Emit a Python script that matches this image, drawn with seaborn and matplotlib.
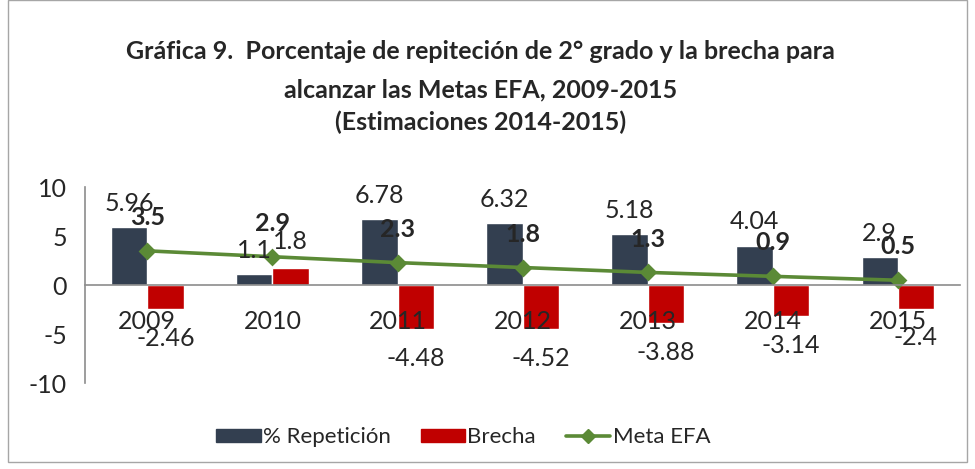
import pandas as pd
import numpy as np
import matplotlib
matplotlib.use("Agg")
from matplotlib import pyplot as plt
from matplotlib.patches import Patch, Rectangle
from matplotlib.lines import Line2D
import seaborn as sns

# data
years = ['2009', '2010', '2011', '2012', '2013', '2014', '2015']
repeticion = [5.96, 1.1, 6.78, 6.32, 5.18, 4.04, 2.9]
brecha = [-2.46, 1.8, -4.48, -4.52, -3.88, -3.14, -2.4]
meta_efa = [3.5, 2.9, 2.3, 1.8, 1.3, 0.9, 0.5]
series_names = ['% Repetición', 'Brecha', 'Meta EFA']
yticks = [-10, -5, 0, 5, 10]

col_rep = '#333F50'
col_bre = '#C00000'
col_meta = '#5B8A36'

sns.set_style('white')
plt.rcParams['font.family'] = ['Lato', 'DejaVu Sans']
plt.rcParams['axes.unicode_minus'] = False

fs = 18

df = pd.DataFrame({
    'year': years * 2,
    'value': repeticion + brecha,
    'serie': [series_names[0]] * len(years) + [series_names[1]] * len(years),
})

fig = plt.figure(figsize=(9.75, 4.69), dpi=100)
ax = fig.add_axes([0.087, 0.183, 0.898, 0.418])

sns.barplot(data=df, x='year', y='value', hue='serie',
            palette=[col_rep, col_bre], width=0.58, ax=ax, legend=False,
            saturation=1, errorbar=None)
sns.pointplot(x=years, y=meta_efa, color=col_meta, markers='D',
              markersize=7, linewidth=2.6, ax=ax, errorbar=None)

# data labels
bw = 0.58 / 2
for i in range(len(years)):
    xr = i - bw / 2
    xb = i + bw / 2
    ax.annotate(f'{repeticion[i]:g}', (xr, repeticion[i]), xytext=(0, 17),
                textcoords='offset points', ha='center', va='center', fontsize=fs)
    off = 19 if brecha[i] > 0 else -21
    ax.annotate(f'{brecha[i]:g}', (xb, brecha[i]), xytext=(0, off),
                textcoords='offset points', ha='center', va='center', fontsize=fs)
    ax.annotate(f'{meta_efa[i]:g}', (i, meta_efa[i]), xytext=(0, 24),
                textcoords='offset points', ha='center', va='center',
                fontsize=fs, fontweight='bold')

ax.set_axisbelow(False)
ax.set_ylim(-10, 10)
ax.set_xlim(-0.5, len(years) - 0.5)
ax.set_yticks(yticks)
ax.set_xlabel('')
ax.set_ylabel('')
ax.spines['top'].set_visible(False)
ax.spines['right'].set_visible(False)
ax.spines['bottom'].set_position(('data', 0))
for s in ['left', 'bottom']:
    ax.spines[s].set_color('#8C8C8C')
    ax.spines[s].set_linewidth(1.2)
ax.tick_params(axis='y', length=5, width=1.2, color='#8C8C8C', pad=8, labelsize=fs)
ax.tick_params(axis='x', which='major', length=0, pad=18, labelsize=fs)
ax.set_xticks(np.arange(-0.5, len(years), 1), minor=True)
ax.tick_params(axis='x', which='minor', length=5, width=1.2, color='#8C8C8C')

# title
tfs = 18
fig.text(0.493, 0.89, 'Gráfica 9.  Porcentaje de repiteción de 2° grado y la brecha para',
         ha='center', va='center', fontsize=tfs, fontweight='bold')
fig.text(0.493, 0.808, 'alcanzar las Metas EFA, 2009-2015',
         ha='center', va='center', fontsize=tfs, fontweight='bold')
fig.text(0.493, 0.74, '(Estimaciones 2014-2015)',
         ha='center', va='center', fontsize=tfs, fontweight='bold')

handles = [Patch(color=col_rep), Patch(color=col_bre),
           Line2D([0], [0], color=col_meta, lw=2.6, marker='D', markersize=7)]
fig.legend(handles, series_names, loc='center', bbox_to_anchor=(0.475, 0.068),
           ncol=3, frameon=False, fontsize=16, handlelength=2.0,
           handleheight=0.55, handletextpad=0.1, columnspacing=1.35)

fig.patches.append(Rectangle((0.008, 0.015), 0.984, 0.985, transform=fig.transFigure,
                             fill=False, edgecolor='#A6A6A6', linewidth=1))

fig.savefig('out.png', dpi=100)
